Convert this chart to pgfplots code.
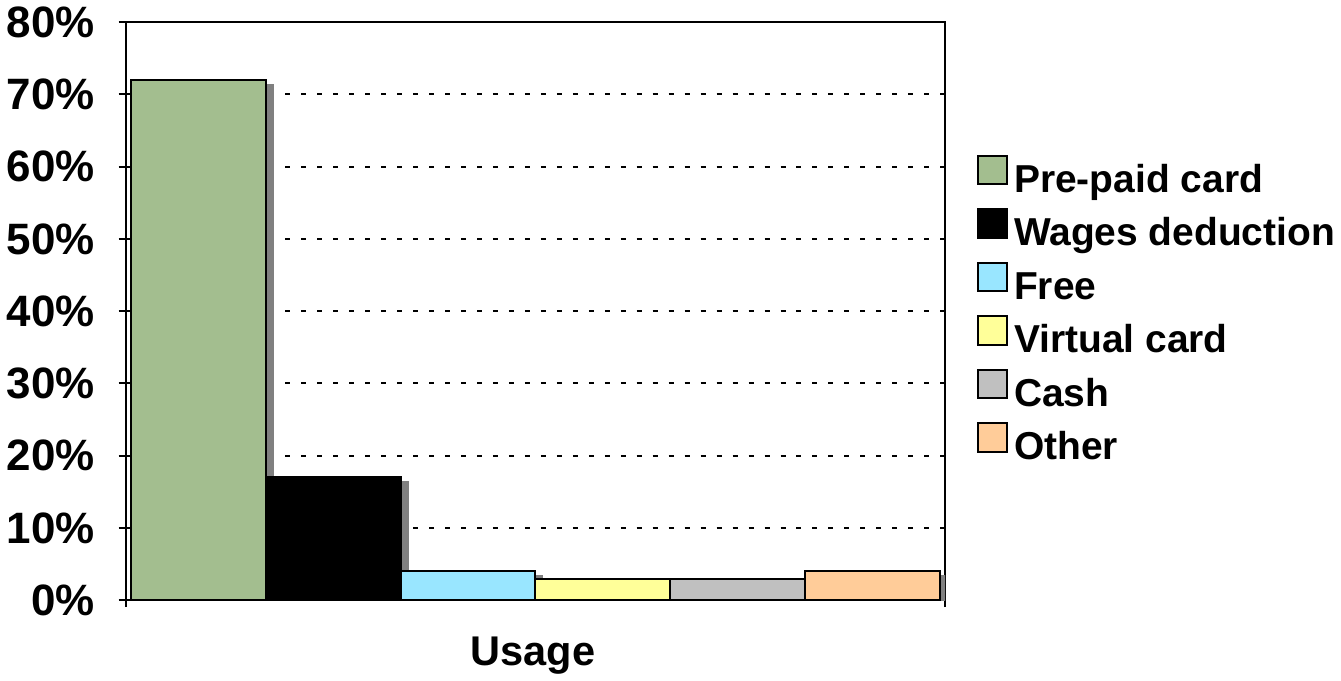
\documentclass[border=0pt]{standalone}
\usepackage{pgfplots}
\pgfplotsset{compat=1.18}
\usepackage{fontspec}
\setmainfont{Liberation Sans}
\definecolor{cGreen}{RGB}{163,190,143}
\definecolor{cBlue}{RGB}{153,230,255}
\definecolor{cYellow}{RGB}{255,255,153}
\definecolor{cGray}{RGB}{192,192,192}
\definecolor{cOrange}{RGB}{255,204,153}
\definecolor{cShadow}{RGB}{128,128,128}
\begin{document}
\begin{tikzpicture}
\begin{axis}[
  scale only axis,
  width=410.5pt, height=289.5pt,
  xmin=-0.54, xmax=5.54,
  ymin=0, ymax=80,
  ytick={0,10,...,80},
  yticklabel={\pgfmathprintnumber{\tick}\%},
  /pgf/number format/assume math mode=true,
  xtick={-0.54,5.54},
  xticklabels={},
  tick align=center,
  major tick length=7pt,
  ytick pos=left, xtick pos=bottom,
  axis line style={line width=1pt},
  every tick/.style={black, line width=1pt},
  ymajorgrids,
  grid style={black, line width=1pt, dash pattern=on 2.5pt off 5.5pt},
  ticklabel style={font=\bfseries\fontsize{22}{26}\selectfont},
  yticklabel style={xshift=-8.5pt},
  xlabel={Usage},
  xlabel style={font=\bfseries\fontsize{20.8}{24}\selectfont, at={(axis description cs:0.497,-0.1123)}, anchor=base},
  legend style={at={(rel axis cs:1.039,0.5)}, anchor=west, draw=none, fill=none,
    inner sep=0pt, outer sep=0pt,
    font=\bfseries\fontsize{19.5}{22}\selectfont, row sep=4pt,
    nodes={inner xsep=3pt, inner ysep=0pt, text height=13.6pt, text depth=4pt}},
  legend cell align=left,
  legend image code/.code={\draw[#1, draw=black, line width=1pt] (0pt,-0.7pt) rectangle (14.5pt,13.5pt);},
]
% Pre-paid card
\addplot[ybar, bar width=1, bar shift=0pt, fill=cShadow, draw=none, forget plot, xshift=4pt, yshift=-2pt] coordinates {(0,72)};
\addplot[ybar, bar width=1, bar shift=0pt, fill=cGreen, draw=black, line width=1pt] coordinates {(0,72)};
\addlegendentry{Pre-paid card}
% Wages deduction
\addplot[ybar, bar width=1, bar shift=0pt, fill=cShadow, draw=none, forget plot, xshift=4pt, yshift=-2pt] coordinates {(1,17)};
\addplot[ybar, bar width=1, bar shift=0pt, fill=black, draw=black, line width=1pt] coordinates {(1,17)};
\addlegendentry{Wages deduction}
% Free
\addplot[ybar, bar width=1, bar shift=0pt, fill=cShadow, draw=none, forget plot, xshift=4pt, yshift=-2pt] coordinates {(2,4)};
\addplot[ybar, bar width=1, bar shift=0pt, fill=cBlue, draw=black, line width=1pt] coordinates {(2,4)};
\addlegendentry{Free}
% Virtual card
\addplot[ybar, bar width=1, bar shift=0pt, fill=cShadow, draw=none, forget plot, xshift=4pt, yshift=-2pt] coordinates {(3,3)};
\addplot[ybar, bar width=1, bar shift=0pt, fill=cYellow, draw=black, line width=1pt] coordinates {(3,3)};
\addlegendentry{Virtual card}
% Cash
\addplot[ybar, bar width=1, bar shift=0pt, fill=cShadow, draw=none, forget plot, xshift=4pt, yshift=-2pt] coordinates {(4,3)};
\addplot[ybar, bar width=1, bar shift=0pt, fill=cGray, draw=black, line width=1pt] coordinates {(4,3)};
\addlegendentry{Cash}
% Other
\addplot[ybar, bar width=1, bar shift=0pt, fill=cShadow, draw=none, forget plot, xshift=4pt, yshift=-2pt] coordinates {(5,4)};
\addplot[ybar, bar width=1, bar shift=0pt, fill=cOrange, draw=black, line width=1pt] coordinates {(5,4)};
\addlegendentry{Other}
\end{axis}
\end{tikzpicture}
\end{document}
